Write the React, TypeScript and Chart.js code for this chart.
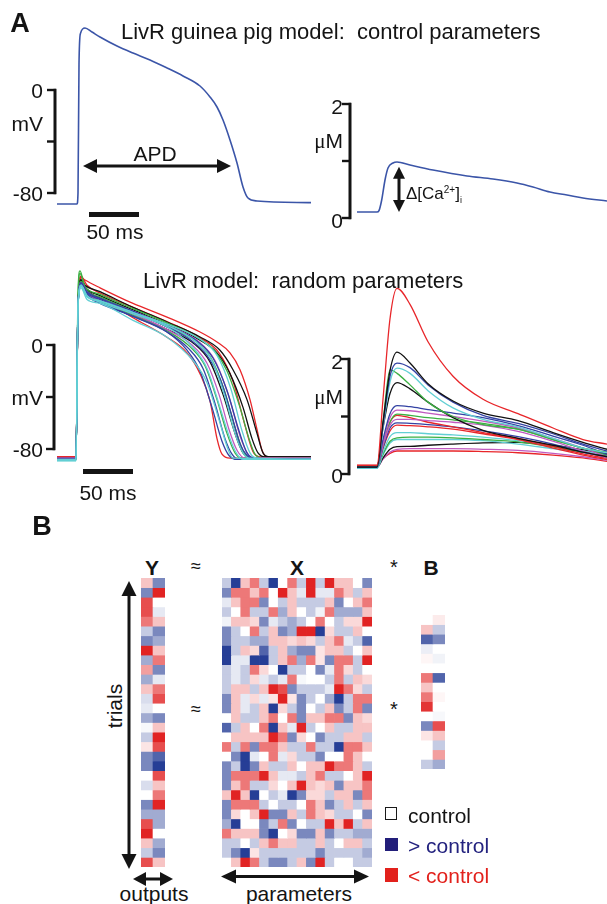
import React, { useEffect, useRef } from "react";
import { Chart, registerables } from "chart.js";

Chart.register(...registerables);

const FONT = '"Liberation Sans", Arial, Helvetica, sans-serif';
const INK = "#141414";
const TRACE_BLUE = "#3b55a8";
const RED = "#e8262a";
const BLACK = "#111111";
const BLUE = "#3342a3";
const CYAN = "#62cfd4";
const GREEN = "#3cb043";
const MAGENTA = "#c05ac0";

// ---------------- Panel A : control parameters ----------------
const AP_CONTROL_MS = [-21, -1, 0, 1, 2.5, 7, 14, 22, 39, 55, 72, 89, 105, 122, 132, 139, 145, 152, 159, 165, 170, 179, 233];
const AP_CONTROL_MV = [-88.5, -88.5, -80, 20, 44, 48.2, 45, 41.2, 34.2, 28.7, 23.3, 17.1, 10.9, 3.1, -5.4, -13.2, -23.3, -38.8, -56.7, -75.3, -83.9, -86.2, -87.5];
const CA_CONTROL_MS = [-21, -1, 1, 3.7, 7, 10, 15, 19, 32, 55, 89, 115, 139, 155, 172, 189, 205, 229];
const CA_CONTROL_UM = [0.105, 0.105, 0.13, 0.316, 0.667, 0.877, 0.965, 0.982, 0.93, 0.842, 0.737, 0.684, 0.614, 0.544, 0.456, 0.404, 0.351, 0.298];

// scale bars / annotations (values, in data units)
const VOLT_TICKS_MV = [0, -40, -80];
const CA_TICKS_UM = [0, 1, 2];
const TIME_BAR_MS = 50;
const APD_ARROW = { from: 5, to: 153, mv: -59 };
const DCA_ARROW = { ms: 21, from: 0.105, to: 0.9 };

// ---------------- Panel A : random parameters ----------------
const AP_RANDOM_COLORS = [CYAN, CYAN, CYAN, CYAN, BLUE, BLUE, BLUE, BLUE, MAGENTA, MAGENTA, GREEN, GREEN, GREEN, BLACK, BLACK, BLACK, RED, RED, RED];
const AP_RANDOM_MS = [
  [-20, -1, 1, 4, 10, 23, 56, 90, 116, 130, 143, 150, 156, 234],
  [-20, -1, 1, 4, 10, 23, 56, 90, 116, 130, 143, 153, 160, 166, 234],
  [-20, -1, 1, 4, 10, 23, 56, 90, 118, 135, 148, 158, 166, 172, 234],
  [-20, -1, 1, 4, 10, 23, 56, 90, 122, 140, 154, 165, 173, 180, 234],
  [-20, -1, 1, 4, 10, 23, 56, 90, 110, 123, 135, 145, 152, 160, 234],
  [-20, -1, 1, 4, 10, 23, 56, 90, 112, 126, 138, 148, 155, 162, 234],
  [-20, -1, 1, 4, 10, 23, 56, 90, 115, 130, 143, 155, 163, 170, 178, 234],
  [-20, -1, 1, 4, 10, 23, 56, 90, 120, 136, 150, 162, 170, 177, 234],
  [-20, -1, 1, 4, 10, 23, 56, 90, 115, 130, 142, 152, 160, 168, 234],
  [-20, -1, 1, 4, 10, 23, 56, 90, 121, 138, 152, 163, 171, 178, 234],
  [-20, -1, 1, 4, 10, 23, 56, 90, 114, 128, 140, 150, 158, 165, 234],
  [-20, -1, 1, 3, 8, 23, 56, 90, 120, 138, 150, 163, 172, 178, 186, 234],
  [-20, -1, 1, 3, 8, 23, 56, 90, 118, 134, 147, 159, 167, 174, 234],
  [-20, -1, 1, 4, 10, 23, 56, 90, 117, 133, 146, 158, 166, 174, 234],
  [-20, -1, 1, 4, 8, 23, 56, 90, 120, 140, 153, 166, 175, 181, 188, 234],
  [-20, -1, 1, 4, 8, 23, 56, 90, 123, 143, 156, 170, 180, 186, 192, 234],
  [-20, -1, 1, 4, 10, 23, 56, 90, 110, 123, 133, 140, 145, 153, 234],
  [-20, -1, 1, 4, 10, 23, 56, 90, 122, 142, 156, 168, 176, 183, 234],
  [-20, -1, 1, 4, 8, 23, 56, 90, 123, 140, 153, 163, 173, 180, 185, 190, 234],
];
const AP_RANDOM_MV = [
  [-89, -89, 30, 44, 35, 32, 19, 6, -12, -29, -60, -78, -87, -88],
  [-89, -89, 30, 46, 38, 33, 24, 14, -2, -18, -48, -72, -84, -88, -88],
  [-88, -88, 30, 46, 38, 34, 25, 15, 3, -12, -40, -68, -83, -87, -88],
  [-89, -89, 30, 45, 37, 34, 25, 16, 5, -8, -34, -66, -83, -87, -88],
  [-88, -88, 30, 46, 38, 32, 22, 10, -4, -20, -48, -74, -85, -88, -88],
  [-88, -88, 30, 47, 39, 33, 22, 10, -3, -18, -45, -72, -84, -88, -88],
  [-88, -88, 30, 47, 40, 35, 25, 14, 3, -8, -26, -55, -76, -85, -88, -88],
  [-88, -88, 30, 48, 41, 36, 26, 15, 3, -10, -35, -66, -83, -87, -88],
  [-87, -87, 30, 48, 41, 35, 24, 12, 0, -14, -38, -65, -81, -87, -87],
  [-87, -87, 30, 47, 39, 35, 26, 15, 3, -12, -40, -70, -84, -87, -87],
  [-88, -88, 30, 49, 40, 34, 23, 11, -2, -16, -42, -68, -83, -87, -87],
  [-88, -88, 35, 55, 45, 39, 28, 17, 6, -5, -20, -48, -72, -84, -87, -87],
  [-88, -88, 40, 57, 44, 37, 26, 14, 3, -10, -34, -66, -83, -87, -87],
  [-87, -87, 30, 50, 42, 36, 24, 12, 1, -13, -38, -68, -83, -87, -87],
  [-87, -87, 30, 49, 44, 38, 27, 16, 5, -6, -22, -48, -72, -83, -86, -86],
  [-87, -87, 30, 50, 46, 41, 29, 17.7, 6.2, -4, -19, -42, -68, -83, -86, -86],
  [-86, -86, 30, 52, 42, 36, 21, 6, -6, -22, -43, -72, -84, -87, -87],
  [-86, -86, 30, 53, 46, 40, 29, 18, 6, -6, -28, -62, -82, -86, -86],
  [-86, -86, 30, 52, 50, 44, 32, 21.5, 10, 2.3, -6, -19, -42, -65, -81, -86, -87],
];

const CA_RANDOM_MS = [-21, -1, 5, 12, 19, 32, 50, 75, 105, 140, 175, 205, 229];
const CA_RANDOM_COLORS = [RED, BLACK, BLUE, CYAN, GREEN, BLACK, BLUE, MAGENTA, MAGENTA, GREEN, RED, BLUE, RED, CYAN, GREEN, CYAN, BLACK, MAGENTA, RED];
const CA_RANDOM_UM = [
  [0.15, 0.15, 1.3, 2.7, 3.23, 2.95, 2.3, 1.7, 1.3, 1.05, 0.8, 0.6, 0.52],
  [0.12, 0.12, 0.9, 1.8, 2.12, 1.93, 1.57, 1.27, 1.06, 0.93, 0.72, 0.55, 0.43],
  [0.12, 0.12, 0.85, 1.7, 1.93, 1.85, 1.55, 1.25, 1.02, 0.88, 0.7, 0.52, 0.4],
  [0.1, 0.1, 0.8, 1.6, 1.84, 1.75, 1.45, 1.15, 0.95, 0.82, 0.62, 0.45, 0.37],
  [0.12, 0.12, 0.9, 1.81, 1.75, 1.55, 1.25, 1.0, 0.86, 0.78, 0.6, 0.45, 0.38],
  [0.12, 0.12, 0.8, 1.4, 1.59, 1.48, 1.25, 0.98, 0.76, 0.62, 0.5, 0.38, 0.3],
  [0.12, 0.12, 0.6, 1.05, 1.19, 1.17, 1.12, 1.06, 0.98, 0.84, 0.66, 0.5, 0.34],
  [0.12, 0.12, 0.55, 0.98, 1.11, 1.1, 1.06, 1.0, 0.92, 0.8, 0.62, 0.45, 0.3],
  [0.12, 0.12, 0.5, 0.85, 0.95, 0.95, 0.93, 0.9, 0.85, 0.74, 0.57, 0.4, 0.28],
  [0.12, 0.12, 0.5, 0.9, 1.04, 1.02, 0.98, 0.94, 0.88, 0.78, 0.6, 0.45, 0.33],
  [0.14, 0.14, 0.5, 0.9, 1.02, 0.98, 0.9, 0.82, 0.72, 0.62, 0.48, 0.35, 0.27],
  [0.12, 0.12, 0.45, 0.8, 0.89, 0.88, 0.86, 0.82, 0.75, 0.65, 0.52, 0.38, 0.3],
  [0.15, 0.15, 0.45, 0.75, 0.85, 0.84, 0.82, 0.78, 0.7, 0.6, 0.45, 0.33, 0.25],
  [0.1, 0.1, 0.38, 0.65, 0.72, 0.72, 0.7, 0.68, 0.64, 0.58, 0.5, 0.4, 0.33],
  [0.12, 0.12, 0.35, 0.57, 0.63, 0.64, 0.64, 0.63, 0.6, 0.56, 0.47, 0.38, 0.32],
  [0.1, 0.1, 0.33, 0.54, 0.6, 0.6, 0.6, 0.6, 0.58, 0.52, 0.44, 0.37, 0.31],
  [0.12, 0.12, 0.28, 0.43, 0.475, 0.48, 0.5, 0.52, 0.54, 0.55, 0.5, 0.42, 0.35],
  [0.12, 0.12, 0.26, 0.38, 0.43, 0.44, 0.44, 0.44, 0.43, 0.41, 0.36, 0.3, 0.24],
  [0.15, 0.15, 0.27, 0.36, 0.4, 0.4, 0.4, 0.4, 0.39, 0.37, 0.33, 0.28, 0.22],
];

// ---------------- Panel B : regression matrices (+ = > control, - = < control) ----------------
const Y_OUTPUTS = [
  [-1, 2], [2, -3], [-2.5, 0], [-2.5, 0.5], [-2, -1], [1, 2], [2, 1.5], [-3, -1], [1.5, -2], [-1.5, 2],
  [1.5, 0.5], [-1, -2], [0.7, -2.5], [0.5, 0], [1.5, 2], [0.2, -1], [1, -3], [-0.5, -2.5], [2, 2.5], [2, 3],
  [0, -2.5], [0.7, -1], [0, -2], [2, -3], [1.5, 1.5], [-2.5, 1.5], [-3, 0], [-1, 1.5], [1, 2], [-2.5, -1],
];
const X_PARAMETERS = [
  [1, 3, -1, -2, 1, 3, 0, -2, 1, -3, 1, -3, -1, -1, 0, 2],
  [2, -2, -2, -1, -2, 0, -3, -1, 0.5, -3, 0.5, 0.5, -2, -1, 1, -1],
  [0.5, -1, -2, -2, 2, 0, 1, -1, 1, 1, 1, -1, 2, 0, -1, -2],
  [1, 0, -2, 1, 1, -2, 1.5, -1, 0, 1, 0.3, -2, 1.5, 1.5, 1.5, -1],
  [0.3, -1, -1, -0.7, 2, 0.5, 1, 1.5, 1, 0, -2, 0, 1, -0.7, -0.7, -3],
  [2, 1, 0, -2, 1, -1, 2, 1.5, -3, -3, 3, -0.7, 1, 1, -1, 0],
  [2, 1, 1, 1.5, 1.5, -1, -1, -0.7, -1, -0.7, 1, -1, -2, 0.5, 1, 2.5],
  [3, 1, -1, -0.7, 2.5, 1, -1, 1.5, 2, 2, -0.5, -1, -1, 1, 0, -1],
  [3, 0.5, 0.5, 3, 3, 1, -1, -2, 1.5, -2, -0.5, 2, -2, -2, 1, -3],
  [1, 0.5, 1, -2, -0.7, 0, 3, 1, 1, 0, 2, 0.5, -2, -0.7, 1, 0],
  [1, 0.5, 1, -0.7, 0.5, 1, 0.5, -2, 0.2, 0, 0, 1, -2, 1, -1, -0.7],
  [1, -1, -1, 1, -1, -3, -2.5, 2, 1, 1, 1, 0.5, -3, -2, -0.7, 1],
  [2, -1, 0.5, -0.7, 0.5, -0.5, -3, -0.5, 2, 1, 0, 1.5, 3, 1, -2, -2],
  [2, -1, 0.5, 1, -1, 3, -0.7, 1, 2, 0, 1, -1, 2, 1, -2, 2],
  [0, -1, 1, 1, -1, -2, 0, -2, 2, -1, -1, -2, -2, 2, -1, -0.7],
  [2.5, 1, -1, 0, -2, 3, -1, 0.5, -3, 1, 0, -1, 1, 1, -1, -1],
  [0, -1, -1, -1, -1, -3, -2, 2, -0.7, 0, 2, 1, 1, -1, -1, 1],
  [-2, 1, -2, 2, -2, -2, -1, 1, 1, -2, 1, 1, 3, -2, -2, -1],
  [0, 2, 3, 0.5, 0, -2, 0.5, -0.7, 1, 1, 2, 0, 0, -2, -1, 0],
  [2, 1, 3, 2, -1, 1, 1, -1, 0, -1, -1, -3, -2, -2, -1, 1],
  [2, -2, -2, -2, -3, -1, 0.5, 0.5, 1, -1, -2, 1, 1, 0, -1, -3],
  [2, -1, -2, 1, 1, -0.7, 0, -1, -3, -1, -0.7, -1, 2, -1, -1, -2],
  [-1, -3, -1, 3, 0, 1, 0.5, 3, 2, -0.7, -0.7, 1, -1, -1, 2, -2],
  [2, -2, -2, -2, 1, 0, 1, 1, 0, -2, -1, 2, 1, -1, 1, -1],
  [2, -0.7, 0, -1, -3, 2, 2, -1, 1, -2, -1, -0.7, 1, 1, 0, 2],
  [1.5, 3, 0, 0, 2, 1, -2, 2, 0, 1, 1, -3, -1, -3, 1, -1],
  [-2, -1, -1, -1, 2, 3, 0, -0.7, 2, 2, -1, 2, 1, 1, 1.5, 1.5],
  [1, 1, 0, 1, -1, -2, -1, -1, 1, 1, -1, 1, 0, -1, -1, 1],
  [1, 2, 3, -0.5, 1, 1, 1, 1, 1, 1, 2, 1, 1, 1, 1, 1.5],
  [0, -1, -3, -2, 1, 2, 2, 1, -1, 2, -3, 1, 0, 0, 1, 1],
];
const B_COEFFICIENTS = [
  [0, -0.4], [-1, 1], [2.5, 2], [0.4, 0], [-0.2, 0.3], [0, 0], [-2, 2.5], [-1, 0],
  [-2, -0.2], [-2.8, 0], [0, 0.2], [2, -2.5], [-0.5, -1], [0, 1], [0, -1.5], [1, 1.5],
];

// ---------------- helpers ----------------
type Box = { x: number; y: number; w: number; h: number };
type Scale = { getPixelForValue: (v: number) => number };

function cellColor(v: number): string {
  const t = Math.pow(Math.min(Math.abs(v), 3) / 3, 1.2);
  const end = v >= 0 ? [38, 62, 150] : [225, 35, 35];
  const c = end.map((e) => Math.round(255 + (e - 255) * t));
  return `rgb(${c[0]},${c[1]},${c[2]})`;
}

function arrowHead(ctx: CanvasRenderingContext2D, tx: number, ty: number, ux: number, uy: number, len: number, half: number) {
  const bx = tx - ux * len;
  const by = ty - uy * len;
  ctx.beginPath();
  ctx.moveTo(tx, ty);
  ctx.lineTo(bx - uy * half, by + ux * half);
  ctx.lineTo(bx + uy * half, by - ux * half);
  ctx.closePath();
  ctx.fill();
}

function doubleArrow(ctx: CanvasRenderingContext2D, x1: number, y1: number, x2: number, y2: number, len: number, half: number, lw: number) {
  const d = Math.hypot(x2 - x1, y2 - y1);
  const ux = (x2 - x1) / d;
  const uy = (y2 - y1) / d;
  ctx.strokeStyle = INK;
  ctx.fillStyle = INK;
  ctx.lineWidth = lw;
  ctx.beginPath();
  ctx.moveTo(x1 + ux * len * 0.7, y1 + uy * len * 0.7);
  ctx.lineTo(x2 - ux * len * 0.7, y2 - uy * len * 0.7);
  ctx.stroke();
  arrowHead(ctx, x2, y2, ux, uy, len, half);
  arrowHead(ctx, x1, y1, -ux, -uy, len, half);
}

function verticalScaleBar(ctx: CanvasRenderingContext2D, xs: Scale, ys: Scale, atX: number, ticks: number[]) {
  const x = xs.getPixelForValue(atX);
  const top = ys.getPixelForValue(Math.max(...ticks));
  const bot = ys.getPixelForValue(Math.min(...ticks));
  ctx.strokeStyle = INK;
  ctx.lineWidth = 3;
  ctx.beginPath();
  ctx.moveTo(x, top - 1.2);
  ctx.lineTo(x, bot + 1.2);
  ctx.stroke();
  ctx.lineWidth = 2.4;
  for (const v of ticks) {
    const y = ys.getPixelForValue(v);
    ctx.beginPath();
    ctx.moveTo(x - 8, y);
    ctx.lineTo(x + 1, y);
    ctx.stroke();
  }
}

function timeBar(ctx: CanvasRenderingContext2D, xs: Scale, ys: Scale, start: number, level: number) {
  const x1 = xs.getPixelForValue(start);
  const x2 = xs.getPixelForValue(start + TIME_BAR_MS);
  const y = ys.getPixelForValue(level);
  ctx.strokeStyle = INK;
  ctx.lineWidth = 5;
  ctx.beginPath();
  ctx.moveTo(x1, y);
  ctx.lineTo(x2, y);
  ctx.stroke();
}

type Trace = { color: string; xs: number[]; ys: number[]; width: number };

function TraceChart({ box, xRange, yRange, traces, draw }: {
  box: Box; xRange: [number, number]; yRange: [number, number]; traces: Trace[];
  draw: (ctx: CanvasRenderingContext2D, xs: Scale, ys: Scale) => void;
}) {
  const ref = useRef<HTMLCanvasElement>(null);
  useEffect(() => {
    const chart = new Chart(ref.current as HTMLCanvasElement, {
      type: "line",
      data: {
        datasets: traces.map((tr) => ({
          data: tr.xs.map((x, i) => ({ x, y: tr.ys[i] })),
          borderColor: tr.color,
          borderWidth: tr.width,
          pointRadius: 0,
          fill: false,
          cubicInterpolationMode: "monotone" as const,
          clip: false as any,
        })),
      },
      options: {
        animation: false,
        responsive: false,
        maintainAspectRatio: false,
        events: [],
        layout: { padding: 0 },
        plugins: { legend: { display: false }, tooltip: { enabled: false }, title: { display: false } },
        scales: {
          x: { type: "linear", display: false, min: xRange[0], max: xRange[1] },
          y: { type: "linear", display: false, min: yRange[0], max: yRange[1] },
        },
      },
      plugins: [
        {
          id: "decor",
          afterDatasetsDraw(c: any) {
            const ctx = c.ctx as CanvasRenderingContext2D;
            ctx.save();
            draw(ctx, c.scales.x, c.scales.y);
            ctx.restore();
          },
        },
      ],
    });
    return () => chart.destroy();
  }, []);
  return (
    <canvas ref={ref} width={box.w} height={box.h}
      style={{ position: "absolute", left: box.x, top: box.y, width: box.w, height: box.h }} />
  );
}

function Heatmap({ box, rows }: { box: Box; rows: number[][] }) {
  const ref = useRef<HTMLCanvasElement>(null);
  useEffect(() => {
    const chart = new Chart(ref.current as HTMLCanvasElement, {
      type: "bar",
      data: {
        labels: rows[0].map((_, j) => `c${j + 1}`),
        datasets: rows.map((row) => ({
          data: row.map(() => 1),
          backgroundColor: row.map(cellColor),
          borderWidth: 0,
          barPercentage: 1,
          categoryPercentage: 1,
        })),
      },
      options: {
        animation: false,
        responsive: false,
        maintainAspectRatio: false,
        events: [],
        layout: { padding: 0 },
        plugins: { legend: { display: false }, tooltip: { enabled: false } },
        scales: {
          x: { display: false, stacked: true },
          y: { display: false, stacked: true, min: 0, max: rows.length, reverse: true },
        },
      },
    });
    return () => chart.destroy();
  }, []);
  return (
    <canvas ref={ref} width={box.w} height={box.h}
      style={{ position: "absolute", left: box.x, top: box.y, width: box.w, height: box.h }} />
  );
}

function Label({ x, y, children, size = 21, bold = false, anchor = "left", color = INK, rotate = 0, family = FONT }: {
  x: number; y: number; children: React.ReactNode; size?: number; bold?: boolean;
  anchor?: "left" | "center" | "right"; color?: string; rotate?: number; family?: string;
}) {
  const tx = anchor === "left" ? "0" : anchor === "center" ? "-50%" : "-100%";
  return (
    <div style={{
      position: "absolute", left: x, top: y, transform: `translate(${tx}, -50%) rotate(${rotate}deg)`,
      fontFamily: family, fontSize: size, fontWeight: bold ? 700 : 400, color, lineHeight: 1,
      whiteSpace: "pre",
    }}>{children}</div>
  );
}

const MU = <span style={{ fontFamily: '"Liberation Serif", "DejaVu Serif", serif' }}>μ</span>;

export default function App() {
  const controlAP: Trace[] = [{ color: TRACE_BLUE, xs: AP_CONTROL_MS, ys: AP_CONTROL_MV, width: 1.6 }];
  const controlCa: Trace[] = [{ color: TRACE_BLUE, xs: CA_CONTROL_MS, ys: CA_CONTROL_UM, width: 1.6 }];
  const randomAP: Trace[] = AP_RANDOM_MV.map((v, i) => ({ color: AP_RANDOM_COLORS[i], xs: AP_RANDOM_MS[i], ys: v, width: 1.3 }));
  const randomCa: Trace[] = CA_RANDOM_UM.map((v, i) => ({ color: CA_RANDOM_COLORS[i], xs: CA_RANDOM_MS, ys: v, width: 1.3 }));

  return (
    <div style={{ position: "absolute", left: 0, top: 0, width: 607, height: 904, background: "#ffffff", overflow: "hidden" }}>
      <TraceChart box={{ x: 0, y: 0, w: 320, h: 250 }} xRange={[-78, 242]} yRange={[-124.27, 69.9]} traces={controlAP}
        draw={(ctx, xs, ys) => {
          verticalScaleBar(ctx, xs, ys, -23, VOLT_TICKS_MV);
          timeBar(ctx, xs, ys, 11, -96.7);
          doubleArrow(ctx, xs.getPixelForValue(APD_ARROW.from), ys.getPixelForValue(APD_ARROW.mv),
            xs.getPixelForValue(APD_ARROW.to), ys.getPixelForValue(APD_ARROW.mv), 14, 7, 3);
        }} />
      <TraceChart box={{ x: 300, y: 0, w: 307, h: 250 }} xRange={[-78, 229]} yRange={[-0.5614, 3.8246]} traces={controlCa}
        draw={(ctx, xs, ys) => {
          verticalScaleBar(ctx, xs, ys, -28, CA_TICKS_UM);
          doubleArrow(ctx, xs.getPixelForValue(DCA_ARROW.ms), ys.getPixelForValue(DCA_ARROW.to),
            xs.getPixelForValue(DCA_ARROW.ms), ys.getPixelForValue(DCA_ARROW.from), 12, 6, 3);
        }} />
      <TraceChart box={{ x: 0, y: 250, w: 320, h: 260 }} xRange={[-77, 243]} yRange={[-126.92, 73.08]} traces={randomAP}
        draw={(ctx, xs, ys) => {
          verticalScaleBar(ctx, xs, ys, -23, VOLT_TICKS_MV);
          timeBar(ctx, xs, ys, 6, -97.3);
        }} />
      <TraceChart box={{ x: 300, y: 250, w: 307, h: 260 }} xRange={[-78, 229]} yRange={[-0.626, 3.8957]} traces={randomCa}
        draw={(ctx, xs, ys) => {
          verticalScaleBar(ctx, xs, ys, -29, CA_TICKS_UM);
        }} />

      {/* Panel A text */}
      <Label x={20} y={23} size={27} bold anchor="center">A</Label>
      <Label x={121} y={32} size={22}>{"LivR guinea pig model:  control parameters"}</Label>
      <Label x={43} y={90} anchor="right">0</Label>
      <Label x={43} y={123} anchor="right">mV</Label>
      <Label x={43} y={193} anchor="right">-80</Label>
      <Label x={155} y={153} anchor="center">APD</Label>
      <Label x={115} y={231} anchor="center">50 ms</Label>
      <Label x={343} y={106} anchor="right">2</Label>
      <Label x={343} y={141} anchor="right">{MU}M</Label>
      <Label x={343} y={220} anchor="right">0</Label>
      <Label x={406} y={195} size={17}>
        Δ[Ca<sup style={{ fontSize: 10, verticalAlign: "6px" }}>2+</sup>]<sub style={{ fontSize: 9, verticalAlign: "-4px" }}>i</sub>
      </Label>

      <Label x={143} y={281} size={22}>{"LivR model:  random parameters"}</Label>
      <Label x={43} y={345} anchor="right">0</Label>
      <Label x={43} y={397} anchor="right">mV</Label>
      <Label x={43} y={449} anchor="right">-80</Label>
      <Label x={108} y={492} anchor="center">50 ms</Label>
      <Label x={343} y={361} anchor="right">2</Label>
      <Label x={343} y={397} anchor="right">{MU}M</Label>
      <Label x={343} y={475} anchor="right">0</Label>

      {/* Panel B */}
      <Label x={42} y={526} size={27} bold anchor="center">B</Label>
      <Label x={152} y={567} size={21} bold anchor="center">Y</Label>
      <Label x={196} y={566} size={18} anchor="center">≈</Label>
      <Label x={297} y={567} size={21} bold anchor="center">X</Label>
      <Label x={394} y={567} size={20} anchor="center">*</Label>
      <Label x={431} y={567} size={21} bold anchor="center">B</Label>
      <Label x={196} y={709} size={18} anchor="center">≈</Label>
      <Label x={394} y={709} size={20} anchor="center">*</Label>
      <Label x={114} y={706} anchor="center" rotate={-90}>trials</Label>
      <Label x={154} y={893} anchor="center">outputs</Label>
      <Label x={299} y={893} anchor="center">parameters</Label>

      <Heatmap box={{ x: 141, y: 578, w: 24, h: 289 }} rows={Y_OUTPUTS} />
      <Heatmap box={{ x: 222, y: 578, w: 150, h: 289 }} rows={X_PARAMETERS} />
      <Heatmap box={{ x: 421, y: 615, w: 24, h: 154 }} rows={B_COEFFICIENTS} />

      <svg width={607} height={904} style={{ position: "absolute", left: 0, top: 0, pointerEvents: "none" }}>
        <g fill={INK} stroke={INK}>
          <line x1={129} y1={592} x2={129} y2={858} strokeWidth={3} />
          <polygon points="129,581 121.5,596 136.5,596" stroke="none" />
          <polygon points="129,869 121.5,854 136.5,854" stroke="none" />
          <line x1={142} y1={879} x2={164} y2={879} strokeWidth={3} />
          <polygon points="133,879 146,872 146,886" stroke="none" />
          <polygon points="173,879 160,872 160,886" stroke="none" />
          <line x1={232} y1={876.5} x2={358} y2={876.5} strokeWidth={3} />
          <polygon points="221,876.5 236,869.5 236,883.5" stroke="none" />
          <polygon points="369,876.5 354,869.5 354,883.5" stroke="none" />
        </g>
      </svg>

      {/* legend */}
      <div style={{ position: "absolute", left: 385, top: 807, width: 10, height: 11, border: "1.5px solid #1a1a1a", background: "#fff" }} />
      <div style={{ position: "absolute", left: 385, top: 838, width: 13, height: 13, background: "#221e7a" }} />
      <div style={{ position: "absolute", left: 385, top: 868, width: 13, height: 14, background: "#e2211c" }} />
      <Label x={408} y={815}>control</Label>
      <Label x={408} y={845} color="#24237f">{"> control"}</Label>
      <Label x={408} y={875} color="#e2211c">{"< control"}</Label>
    </div>
  );
}
